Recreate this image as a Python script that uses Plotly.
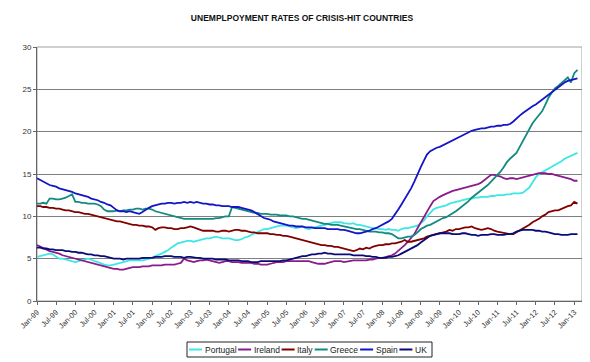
import pandas as pd
import plotly.graph_objects as go

months = pd.date_range("1999-01-01", periods=170, freq="MS")

portugal = [
    5.2, 5.3, 5.4, 5.5, 5.6, 5.5, 5.3, 5.0, 5.0, 4.9, 4.8, 4.7,
    4.6, 4.7, 4.8, 4.9, 5.0, 4.9, 4.7, 4.6, 4.4, 4.3, 4.2, 4.2,
    4.3, 4.4, 4.5, 4.6, 4.7, 4.8, 4.8, 4.8, 4.8, 4.8, 4.9, 5.0,
    5.1, 5.3, 5.4, 5.6, 5.8, 6.0, 6.3, 6.6, 6.8, 6.9, 7.0, 7.1,
    7.1, 7.0, 7.1, 7.2, 7.3, 7.4, 7.4, 7.5, 7.6, 7.5, 7.4, 7.4,
    7.4, 7.3, 7.2, 7.2, 7.3, 7.5, 7.6, 7.8, 8.0, 8.2, 8.4, 8.5,
    8.5, 8.6, 8.7, 8.8, 8.9, 8.9, 8.9, 8.8, 8.7, 8.6, 8.7, 8.8,
    8.6, 8.5, 8.6, 8.7, 8.8, 8.9, 9.0, 9.1, 9.2, 9.3, 9.3, 9.3,
    9.2, 9.1, 9.1, 9.2, 9.0, 9.0, 8.9, 8.8, 8.7, 8.6, 8.6, 8.5,
    8.5, 8.4, 8.5, 8.4, 8.4, 8.3, 8.5, 8.6, 8.6, 8.7, 8.8, 8.9,
    9.2, 9.5, 10.0, 10.4, 10.8, 11.0, 11.1, 11.2, 11.3, 11.5, 11.6, 11.7,
    11.8, 11.9, 12.0, 12.1, 12.1, 12.2, 12.2, 12.3, 12.3, 12.3, 12.4, 12.4,
    12.5, 12.5, 12.5, 12.6, 12.6, 12.7, 12.7, 12.7, 12.8, 13.1, 13.4, 14.0,
    14.6, 15.0, 15.2, 15.4, 15.6, 15.8, 16.0, 16.2, 16.5, 16.8, 17.0, 17.2,
    17.4, 17.5,
]

ireland = [
    6.6, 6.4, 6.2, 6.0, 5.9, 5.8, 5.7, 5.6, 5.4, 5.3, 5.2, 5.1,
    5.0, 4.9, 4.8, 4.7, 4.6, 4.5, 4.4, 4.3, 4.2, 4.1, 4.0, 3.9,
    3.8, 3.8, 3.7, 3.7, 3.8, 3.9, 4.0, 4.0, 4.0, 4.1, 4.1, 4.1,
    4.2, 4.2, 4.2, 4.2, 4.3, 4.3, 4.3, 4.3, 4.4, 4.5, 5.0, 4.8,
    4.7, 4.6, 4.7, 4.8, 4.8, 4.9, 4.8, 4.7, 4.6, 4.5, 4.6, 4.7,
    4.7, 4.6, 4.6, 4.6, 4.5, 4.5, 4.5, 4.5, 4.4, 4.4, 4.3, 4.3,
    4.3, 4.4, 4.5, 4.6, 4.6, 4.6, 4.7, 4.7, 4.7, 4.7, 4.7, 4.7,
    4.7, 4.7, 4.6, 4.5, 4.4, 4.4, 4.4, 4.5, 4.6, 4.7, 4.7, 4.7,
    4.6, 4.7, 4.7, 4.8, 4.8, 4.8, 4.8, 4.8, 4.9, 4.9, 5.0, 5.1,
    5.1, 5.2, 5.3, 5.4, 5.6, 5.9, 6.2, 6.6, 7.0, 7.4, 7.9, 8.6,
    9.3, 10.0, 10.6, 11.2, 11.8, 12.1, 12.3, 12.5, 12.7, 12.9, 13.0, 13.1,
    13.2, 13.3, 13.4, 13.5, 13.6, 13.7, 13.8, 14.0, 14.3, 14.6, 14.9, 14.9,
    14.8, 14.7, 14.5, 14.4, 14.5, 14.5, 14.4, 14.5, 14.6, 14.7, 14.8, 14.9,
    15.0, 15.1, 15.1, 15.1, 15.0, 15.0, 14.9, 14.8, 14.7, 14.6, 14.5, 14.4,
    14.2, 14.2,
]

italy = [
    11.2, 11.2, 11.1, 11.1, 11.0, 11.0, 10.9, 10.9, 10.8, 10.7, 10.7, 10.6,
    10.5, 10.5, 10.4, 10.3, 10.3, 10.2, 10.1, 10.0, 9.9, 9.8, 9.7, 9.6,
    9.5, 9.4, 9.4, 9.3, 9.2, 9.1, 9.0, 9.0, 8.9, 8.9, 8.8, 8.8,
    8.7, 8.4, 8.6, 8.7, 8.7, 8.6, 8.6, 8.5, 8.5, 8.6, 8.6, 8.7,
    8.8, 8.7, 8.6, 8.4, 8.3, 8.3, 8.3, 8.3, 8.2, 8.2, 8.3, 8.3,
    8.2, 8.3, 8.4, 8.4, 8.3, 8.3, 8.2, 8.1, 8.1, 8.0, 8.0, 8.0,
    8.0, 7.9, 7.9, 7.8, 7.8, 7.7, 7.7, 7.6, 7.5, 7.4, 7.3, 7.2,
    7.1, 7.0, 6.9, 6.8, 6.7, 6.6, 6.6, 6.5, 6.5, 6.4, 6.4, 6.3,
    6.2, 6.1, 6.0, 5.9, 6.0, 6.2, 6.1, 6.3, 6.2, 6.4, 6.5, 6.6,
    6.6, 6.7, 6.7, 6.8, 6.8, 6.9, 7.0, 7.2, 7.0, 7.0, 7.1, 7.2,
    7.3, 7.4, 7.6, 7.7, 7.8, 7.9, 8.0, 8.1, 8.2, 8.4, 8.3, 8.5,
    8.5, 8.6, 8.7, 8.7, 8.8, 8.6, 8.5, 8.4, 8.5, 8.6, 8.5, 8.3,
    8.2, 8.1, 8.1, 8.0, 7.9, 7.9, 8.1, 8.3, 8.6, 8.8, 9.0, 9.3,
    9.5, 9.7, 10.0, 10.2, 10.5, 10.6, 10.7, 10.7, 10.9, 11.0, 11.2, 11.3,
    11.7, 11.5,
]

greece = [
    11.5, 11.5, 11.6, 11.5, 12.1, 12.1, 12.0, 12.0, 12.1, 12.2, 12.4, 12.6,
    11.7, 11.7, 11.6, 11.6, 11.5, 11.5, 11.5, 11.4, 11.2, 10.8, 10.6, 10.6,
    10.6, 10.7, 10.6, 10.7, 10.7, 10.8, 10.8, 10.9, 10.9, 10.8, 10.9, 10.9,
    10.8, 10.6, 10.5, 10.4, 10.3, 10.2, 10.1, 10.0, 9.9, 9.8, 9.7, 9.7,
    9.7, 9.7, 9.7, 9.7, 9.7, 9.7, 9.7, 9.7, 9.8, 9.8, 9.9, 10.0,
    10.0, 11.1, 11.0, 10.9, 10.8, 10.7, 10.6, 10.5, 10.4, 10.4, 10.3, 10.3,
    10.3, 10.2, 10.2, 10.2, 10.1, 10.1, 10.1, 10.0, 10.0, 9.9, 9.8, 9.7,
    9.7, 9.6, 9.5, 9.4, 9.3, 9.2, 9.1, 9.1, 9.0, 9.0, 9.0, 8.9,
    8.8, 8.7, 8.7, 8.6, 8.5, 8.5, 8.4, 8.3, 8.2, 8.2, 8.2, 8.1,
    8.1, 8.0, 8.0, 7.9, 7.6, 7.4, 7.4, 7.5, 7.6, 7.6, 7.8, 8.1,
    8.5, 8.7, 8.9, 9.0, 9.2, 9.4, 9.6, 9.8, 9.9, 10.1, 10.4, 10.6,
    10.9, 11.2, 11.5, 11.8, 12.2, 12.5, 12.8, 13.1, 13.3, 13.7, 14.1, 14.5,
    14.8, 15.3, 15.8, 16.4, 16.8, 17.2, 17.5, 18.2, 18.9, 19.5, 20.3, 21.0,
    21.5, 22.0, 22.4, 23.2, 24.0, 24.6, 25.1, 25.4, 25.7, 26.1, 26.4, 25.8,
    26.9, 27.3,
]

spain = [
    14.5, 14.3, 14.1, 13.9, 13.7, 13.6, 13.5, 13.3, 13.2, 13.1, 13.0, 12.9,
    12.7, 12.6, 12.5, 12.4, 12.3, 12.1, 12.0, 11.9, 11.7, 11.6, 11.4, 11.3,
    11.0, 10.7, 10.6, 10.6, 10.5, 10.6, 10.5, 10.4, 10.3, 10.5, 10.8, 11.0,
    11.2, 11.3, 11.4, 11.5, 11.5, 11.6, 11.6, 11.5, 11.6, 11.6, 11.7, 11.6,
    11.7, 11.6, 11.7, 11.6, 11.5, 11.5, 11.4, 11.4, 11.3, 11.3, 11.2, 11.2,
    11.2, 11.1, 11.1, 11.1, 11.0, 10.9, 10.8, 10.7, 10.5, 10.3, 10.0, 9.8,
    9.7, 9.6, 9.4, 9.3, 9.2, 9.1, 9.0, 8.9, 8.9, 8.8, 8.8, 8.8,
    8.7, 8.7, 8.7, 8.6, 8.6, 8.6, 8.6, 8.5, 8.5, 8.5, 8.5, 8.4,
    8.4, 8.3, 8.2, 8.1, 8.0, 8.0, 8.1, 8.2, 8.3, 8.5, 8.6, 8.8,
    9.0, 9.2, 9.4, 9.7, 10.2, 10.8, 11.4, 12.0, 12.6, 13.3, 14.1, 15.0,
    15.8, 16.6, 17.3, 17.7, 17.9, 18.1, 18.2, 18.4, 18.6, 18.8, 18.9, 19.1,
    19.3, 19.5, 19.7, 19.9, 20.1, 20.2, 20.3, 20.4, 20.4, 20.5, 20.6, 20.6,
    20.7, 20.7, 20.8, 20.8, 20.9, 21.2, 21.6, 21.9, 22.2, 22.5, 22.8, 23.0,
    23.2, 23.5, 23.8, 24.1, 24.4, 24.7, 25.0, 25.3, 25.6, 25.8, 26.0, 26.1,
    26.2, 26.3,
]

uk = [
    6.3, 6.3, 6.2, 6.2, 6.1, 6.1, 6.0, 6.0, 6.0, 5.9, 5.9, 5.8,
    5.8, 5.7, 5.7, 5.6, 5.5, 5.5, 5.4, 5.4, 5.3, 5.3, 5.2, 5.1,
    5.0, 5.0, 5.0, 4.9, 5.0, 5.0, 5.0, 5.0, 5.0, 5.1, 5.1, 5.1,
    5.1, 5.2, 5.2, 5.2, 5.3, 5.3, 5.3, 5.2, 5.2, 5.2, 5.1, 5.2,
    5.2, 5.1, 5.1, 5.1, 5.0, 5.0, 5.0, 5.0, 4.9, 4.9, 4.9, 4.9,
    4.8, 4.8, 4.8, 4.8, 4.7, 4.7, 4.7, 4.6, 4.6, 4.6, 4.7, 4.7,
    4.7, 4.7, 4.7, 4.7, 4.7, 4.8, 4.8, 4.9, 5.0, 5.1, 5.2, 5.3,
    5.3, 5.4, 5.5, 5.5, 5.6, 5.6, 5.7, 5.6, 5.6, 5.5, 5.5, 5.5,
    5.5, 5.5, 5.5, 5.4, 5.4, 5.4, 5.4, 5.3, 5.3, 5.2, 5.2, 5.1,
    5.1, 5.1, 5.2, 5.2, 5.3, 5.4, 5.6, 5.8, 6.0, 6.2, 6.4, 6.6,
    6.9, 7.2, 7.5, 7.7, 7.8, 7.9, 8.0, 8.0, 8.0, 8.0, 7.9, 7.9,
    7.9, 8.0, 8.0, 7.9, 7.8, 7.8, 7.7, 7.8, 7.8, 7.8, 7.9, 7.9,
    7.8, 7.8, 7.8, 7.9, 7.9, 8.0, 8.2, 8.3, 8.4, 8.4, 8.4, 8.4,
    8.3, 8.3, 8.2, 8.2, 8.1, 8.0, 7.9, 7.9, 7.8, 7.8, 7.8, 7.9,
    7.9, 7.9,
]

names = ["Portugal", "Ireland", "Italy", "Greece", "Spain", "UK"]
colors = ["#3FE6E6", "#8B1A8B", "#800000", "#138A80", "#1414C8", "#0A0A78"]
values = [portugal, ireland, italy, greece, spain, uk]

# The page body has an 8px default margin: lay out in page pixels, then shift.
OFF = 8
W, H = 590, 362
PL, PT, PR, PB = 37, 47, 582, 301          # plot area in page pixels
ML, MT = PL - OFF, PT - OFF
MR = W - (PR - OFF)
MB = H - (PB - OFF)
PW, PH = PR - PL, PB - PT


def px2x(px):
    return (px - PL) / PW


def py2y(py):
    return (PB - py) / PH


fig = go.Figure()
for name, vals, color in zip(names, values, colors):
    fig.add_trace(go.Scatter(x=months, y=vals, name=name, mode="lines",
                             line=dict(color=color, width=1.8),
                             showlegend=False))

# compact Excel-style legend box (key line + label)
leg_font = 8.5
text_w = [31.6, 26.0, 15.6, 27.9, 21.8, 11.8]   # approx label widths (px)
key_len, key_gap, item_gap = 13, 1.5, 3
leg_left, leg_right, leg_top, leg_bot = 187, 432, 342, 357
leg_mid = (leg_top + leg_bot) / 2

fig.add_shape(type="rect", xref="paper", yref="paper",
              x0=px2x(leg_left), x1=px2x(leg_right),
              y0=py2y(leg_bot), y1=py2y(leg_top),
              line=dict(color="#222", width=1), fillcolor="white")
cur = 189
for name, color, tw in zip(names, colors, text_w):
    fig.add_shape(type="line", xref="paper", yref="paper",
                  x0=px2x(cur), x1=px2x(cur + key_len),
                  y0=py2y(leg_mid), y1=py2y(leg_mid),
                  line=dict(color=color, width=2))
    fig.add_annotation(text=name, xref="paper", yref="paper",
                       x=px2x(cur + key_len + key_gap), y=py2y(leg_mid),
                       xanchor="left", yanchor="middle", showarrow=False,
                       font=dict(size=leg_font, color="#222"),
                       borderpad=0)
    cur += key_len + key_gap + tw + item_gap

fig.update_layout(
    width=W, height=H,
    margin=dict(l=ML, r=MR, t=MT, b=MB),
    paper_bgcolor="white", plot_bgcolor="white",
    font=dict(family="Liberation Sans, Arial, sans-serif", color="#222"),
    title=dict(text="<b>UNEMPLPOYMENT RATES OF CRISIS-HIT COUNTRIES</b>",
               x=(302 - OFF) / W, xanchor="center",
               y=1 - (18 - OFF) / H, yanchor="middle",
               font=dict(size=8.5, color="#111")),
    showlegend=False,
)

fig.update_xaxes(
    type="date", range=["1999-01-01", "2013-03-16"],
    tick0="1999-01-01", dtick="M6", tickformat="%b-%y",
    tickangle=-45, tickfont=dict(size=7.5, color="#333"),
    ticks="outside", ticklen=3, tickcolor="#666",
    showgrid=False, showline=True, linecolor="#666", linewidth=1,
    mirror=False, automargin=False, ticklabeloverflow="allow",
)
fig.update_yaxes(
    range=[0, 30], dtick=5, tickfont=dict(size=8, color="#333"),
    ticks="outside", ticklen=3, tickcolor="#666",
    showgrid=True, gridcolor="#7f7f7f", gridwidth=1,
    showline=True, linecolor="#666", linewidth=1, zeroline=False,
    automargin=False,
)

# plot-area frame (grey)
fig.add_shape(type="rect", xref="paper", yref="paper", x0=0, y0=0, x1=1, y1=1,
              line=dict(color="#a0a0a0", width=1), layer="below")

fig.write_html("out.html")
